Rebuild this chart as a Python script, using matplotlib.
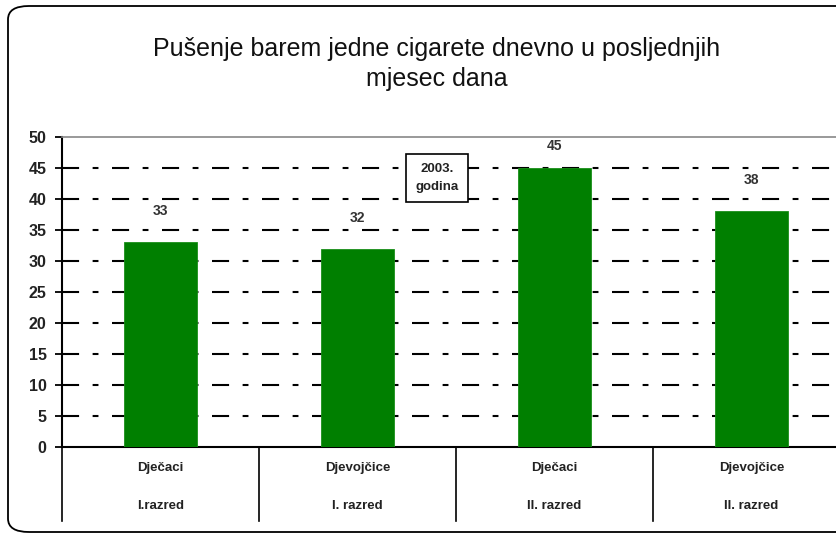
import matplotlib
matplotlib.use("Agg")
import matplotlib.pyplot as plt
from matplotlib.patches import FancyBboxPatch
from matplotlib.lines import Line2D
import matplotlib.transforms as mtransforms

# ---- data ----
groups = ["Dječaci", "Djevojčice", "Dječaci", "Djevojčice"]
grades = ["I.razred", "I. razred", "II. razred", "II. razred"]
values = [33, 32, 45, 38]
yticks = [0, 5, 10, 15, 20, 25, 30, 35, 40, 45, 50]
title = "Pušenje barem jedne cigarete dnevno u posljednjih\nmjesec dana"
note = "2003.\ngodina"

plt.rcParams['font.family'] = ['Liberation Sans', 'DejaVu Sans']

W, H = 836, 536
fig = plt.figure(figsize=(W / 100, H / 100), dpi=100)
fig.patch.set_facecolor("white")

# rounded outer frame (chart area, cut at the right edge)
frame = FancyBboxPatch((8 / W, 4 / H), 900 / W, 526 / H,
                       boxstyle="round,pad=0,rounding_size=0.025",
                       transform=fig.transFigure, facecolor="none",
                       edgecolor="black", linewidth=1.3, zorder=-1)
fig.patches.append(frame)

AX_H = 310
ax = fig.add_axes([62 / W, 89 / H, 788 / W, AX_H / H])
ax.set_facecolor("white")
n = len(values)
x = list(range(n))
ax.set_xlim(-0.5, n - 0.5)
ax.set_ylim(yticks[0], yticks[-1])

# grid lines (dash-dot)
for t in yticks[1:-1]:
    ax.axhline(t, color="black", linewidth=1.5,
               linestyle=(0, (8.2, 6.5, 2.8, 6.5)), zorder=1)

bars = ax.bar(x, values, width=0.375, color="#007F00", edgecolor="#1a8f1a",
              linewidth=0.6, zorder=3)

# data labels above bars (pushed down if they would leave the plot area)
px_per_unit = AX_H / (yticks[-1] - yticks[0])
for xi, v in zip(x, values):
    off_px = min(31, (yticks[-1] - v) * px_per_unit - 9)
    ax.annotate(str(v), (xi, v), xytext=(0, off_px * 0.72),
                textcoords="offset points",
                ha="center", va="center", fontsize=10, fontweight="bold",
                color="#333333")

# spines & ticks
ax.spines["left"].set_color("black")
ax.spines["left"].set_linewidth(1.5)
ax.spines["bottom"].set_color("black")
ax.spines["bottom"].set_linewidth(1.5)
ax.spines["top"].set_color("#888888")
ax.spines["top"].set_linewidth(1.2)
ax.spines["right"].set_visible(False)

ax.set_yticks(yticks)
ax.set_yticklabels([str(t) for t in yticks], fontsize=11.5, fontweight="bold",
                   color="#222222")
ax.tick_params(axis="y", direction="out", length=5, width=1.3, pad=6)
ax.set_xticks([])

# multi-level category labels
trans = mtransforms.blended_transform_factory(ax.transData, ax.transAxes)
for xi, g, r in zip(x, groups, grades):
    ax.text(xi, -21 / AX_H, g, transform=trans, ha="center", va="center",
            fontsize=9.5, fontweight="bold", color="#222222")
    ax.text(xi, -59 / AX_H, r, transform=trans, ha="center", va="center",
            fontsize=9.5, fontweight="bold", color="#222222")
for b in [xi - 0.5 for xi in x]:
    ax.add_line(Line2D([b, b], [0, -74 / AX_H], transform=trans, color="black",
                       linewidth=1.2, clip_on=False))

# note box
ax.text(1.404, 43.4, note, ha="center", va="center", fontsize=9.5,
        fontweight="bold", color="#222222", linespacing=1.7, zorder=5,
        bbox=dict(boxstyle="square,pad=0.7", facecolor="white",
                  edgecolor="black", linewidth=1.2))

# title
fig.text(437 / W, 1 - 64 / H, title, ha="center", va="center", fontsize=18,
         color="#111111", linespacing=1.35)

fig.savefig("out.png", dpi=100, facecolor="white")
